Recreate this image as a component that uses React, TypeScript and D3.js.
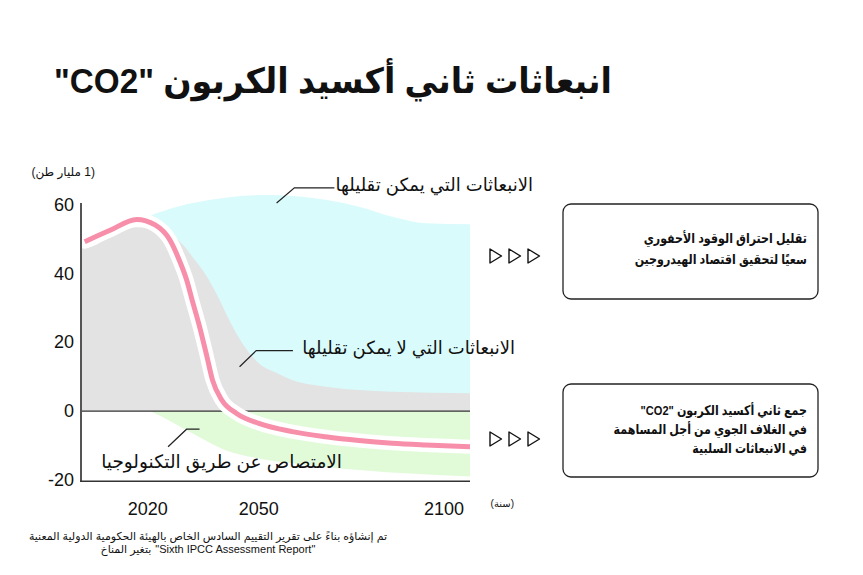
import { useEffect, useRef } from "react";
import * as d3 from "d3";

// net CO2 emissions (pink line), billion tonnes
const netYears = [2003, 2010, 2017, 2022, 2026, 2028.5, 2030.5, 2032, 2034, 2036, 2037.5, 2040, 2044, 2050, 2059, 2068, 2077, 2086, 2095, 2107];
const netValues = [49.3, 52.7, 55.8, 54.2, 49.8, 44, 38.2, 32.3, 24.6, 15.8, 9.0, 3.2, -0.7, -3.6, -6.0, -7.5, -8.6, -9.4, -9.9, -10.4];

// emissions that cannot be reduced (grey)
const hardYears = [2002, 2005, 2010, 2017, 2022, 2026, 2029.5, 2032, 2036, 2038.5, 2042, 2045, 2047.5, 2050, 2055, 2059, 2068, 2077, 2086, 2107];
const hardValues = [47.4, 47.9, 50.8, 53.5, 53.2, 51.8, 48.4, 45, 39.1, 34.3, 26.5, 20.7, 16.8, 13.9, 11.0, 9.0, 7.1, 6.1, 5.6, 5.2];

// emissions that can be reduced (cyan, top edge)
const reducibleYears = [2021, 2028, 2037, 2052, 2068, 2077, 2086, 2095, 2107];
const reducibleValues = [57.1, 59.5, 61.5, 62.9, 61.5, 59.5, 56.6, 54.7, 54.4];

// technological removal (green, lower edge)
const removalYears = [2020.5, 2023, 2032, 2041, 2050, 2059, 2077, 2107];
const removalValues = [0, -1.2, -6.5, -11.4, -13.8, -15.2, -17.2, -19.1];

const yTicks = [60, 40, 20, 0, -20];
const xTicks = [2020, 2050, 2100];

const title = 'انبعاثات ثاني أكسيد الكربون "CO2"';
const yUnit = "(1 مليار طن)";
const xUnit = "(سنة)";
const labelReducible = "الانبعاثات التي يمكن تقليلها";
const labelHard = "الانبعاثات التي لا يمكن تقليلها";
const labelRemoval = "الامتصاص عن طريق التكنولوجيا";
const box1Lines = ["تقليل احتراق الوقود الأحفوري", "سعيًا لتحقيق اقتصاد الهيدروجين"];
const box2Lines = ['جمع ثاني أكسيد الكربون "CO2"', "في الغلاف الجوي من أجل المساهمة", "في الانبعاثات السلبية"];
const sourceLine1 = "تم إنشاؤه بناءً على تقرير التقييم السادس الخاص بالهيئة الحكومية الدولية المعنية";
// second line is drawn in two pieces: Arabic on the left, English on the right
const sourceLine2Ar = "بتغير المناخ";
const sourceLine2En = '"Sixth IPCC Assessment Report"';

const FONT = "'Liberation Sans', Arial, 'DejaVu Sans', sans-serif";

export default function App() {
  const svgRef = useRef<SVGSVGElement>(null);

  useEffect(() => {
    if (!svgRef.current) return;
    const width = 863;
    const height = 575;

    d3.select(svgRef.current).selectAll("*").remove();
    const svg = d3
      .select(svgRef.current)
      .attr("width", width)
      .attr("height", height)
      .style("font-family", FONT);

    const x = d3.scaleLinear().domain([2002, 2107]).range([81, 470]);
    const y = d3.scaleLinear().domain([-20, 60]).range([479.7, 205]);

    const zip = (xs: number[], vs: number[]) => xs.map((d, i) => [d, vs[i]] as [number, number]);

    const areaFromZero = d3
      .area<[number, number]>()
      .x((d) => x(d[0]))
      .y0(y(0))
      .y1((d) => y(d[1]))
      .curve(d3.curveMonotoneX);

    // cyan: reducible emissions
    svg.append("path").attr("d", areaFromZero(zip(reducibleYears, reducibleValues))).attr("fill", "#d9fbfc");
    // grey: hard to reduce
    svg.append("path").attr("d", areaFromZero(zip(hardYears, hardValues))).attr("fill", "#e3e3e3");
    // green: removal
    svg.append("path").attr("d", areaFromZero(zip(removalYears, removalValues))).attr("fill", "#e1fbd9");

    // zero line
    svg
      .append("line")
      .attr("x1", x(2002))
      .attr("x2", x(2107))
      .attr("y1", y(0))
      .attr("y2", y(0))
      .attr("stroke", "#333")
      .attr("stroke-width", 1.2);

    const line = d3
      .line<[number, number]>()
      .x((d) => x(d[0]))
      .y((d) => y(d[1]))
      .curve(d3.curveMonotoneX);
    const net = zip(netYears, netValues);

    svg.append("path").attr("d", line(net)).attr("fill", "none").attr("stroke", "#fff").attr("stroke-width", 14).attr("stroke-linecap", "round");
    svg.append("path").attr("d", line(net)).attr("fill", "none").attr("stroke", "#f78fab").attr("stroke-width", 5);

    // axes
    svg
      .append("line")
      .attr("x1", x(2002))
      .attr("x2", x(2002))
      .attr("y1", y(60) - 2)
      .attr("y2", y(-20) + 1.5)
      .attr("stroke", "#555")
      .attr("stroke-width", 2);
    svg
      .append("line")
      .attr("x1", x(2002) - 1)
      .attr("x2", x(2107))
      .attr("y1", y(-20) + 1.5)
      .attr("y2", y(-20) + 1.5)
      .attr("stroke", "#333")
      .attr("stroke-width", 1.5);

    svg
      .selectAll(".ytick")
      .data(yTicks)
      .enter()
      .append("text")
      .attr("x", x(2002) - 7)
      .attr("y", (d) => y(d) + 6)
      .attr("text-anchor", "end")
      .attr("font-size", 18)
      .attr("fill", "#111")
      .text((d) => d);

    svg
      .selectAll(".xtick")
      .data(xTicks)
      .enter()
      .append("text")
      .attr("x", (d) => x(d))
      .attr("y", 515)
      .attr("text-anchor", "middle")
      .attr("font-size", 18)
      .attr("fill", "#111")
      .text((d) => d);

    // squeeze = horizontal factor, to get closer to the narrower Arabic face of the original
    const rtlText = (tx: number, ty: number, s: string, size: number, weight = "normal", anchor = "start", squeeze = 1) => {
      const t = svg
        .append("text")
        .attr("x", tx)
        .attr("y", ty)
        .attr("direction", "rtl")
        .attr("text-anchor", anchor)
        .attr("font-size", size)
        .attr("font-weight", weight)
        .attr("fill", "#111")
        .text(s);
      if (squeeze !== 1) {
        const w = (t.node() as SVGTextElement).getComputedTextLength();
        t.attr("textLength", w * squeeze).attr("lengthAdjust", "spacingAndGlyphs");
      }
      return t;
    };

    rtlText(612, 93, title, 35, "bold", "start", 0.95);
    rtlText(95, 176, yUnit, 12);
    rtlText(514, 507, xUnit, 10);

    // leaders + area labels
    const leader = (pts: [number, number][]) =>
      svg
        .append("path")
        .attr("d", d3.line()(pts.map((p) => [x(p[0]), y(p[1])] as [number, number])))
        .attr("fill", "none")
        .attr("stroke", "#222")
        .attr("stroke-width", 1.2);

    leader([[2054.8, 60.6], [2059.6, 65], [2070.4, 65]]);
    rtlText(533, y(65.8) + 6, labelReducible, 18);
    leader([[2044.8, 12.9], [2049.3, 17.6], [2059.2, 17.6]]);
    rtlText(515, y(18.4) + 6, labelHard, 18);
    leader([[2025.5, -10.4], [2030.5, -5.3], [2034, -5.3]]);
    rtlText(342, y(-14.8) + 6, labelRemoval, 18.5);

    // right-hand boxes
    const box = (bx: number, by: number, bw: number, bh: number, lines: string[], firstBase: number, step: number) => {
      svg
        .append("rect")
        .attr("x", bx)
        .attr("y", by)
        .attr("width", bw)
        .attr("height", bh)
        .attr("rx", 8)
        .attr("fill", "#fff")
        .attr("stroke", "#222")
        .attr("stroke-width", 1.3);
      lines.forEach((s, i) => rtlText(807, firstBase + i * step, s, 13.5, "bold", "start", 0.82));
    };
    box(563, 204, 255, 95, box1Lines, 243, 21);
    box(563, 384, 255, 93, box2Lines, 415, 19);

    // arrow heads
    const arrows = (cy: number) => {
      [490, 509, 528].forEach((ax) => {
        svg
          .append("path")
          .attr("d", `M${ax},${cy - 7}L${ax + 11.5},${cy}L${ax},${cy + 7}Z`)
          .attr("fill", "#fff")
          .attr("stroke", "#111")
          .attr("stroke-width", 1.4)
          .attr("stroke-linejoin", "round");
      });
    };
    arrows(256);
    arrows(439);

    // source
    rtlText(208, 540, sourceLine1, 11, "normal", "middle");
    const ar = svg.append("text").attr("x", 0).attr("y", 553).attr("font-size", 11).attr("fill", "#111").text(sourceLine2Ar);
    const en = svg.append("text").attr("x", 0).attr("y", 553).attr("font-size", 11).attr("fill", "#111").text(sourceLine2En);
    const arBox = (ar.node() as SVGTextElement).getBBox();
    const enBox = (en.node() as SVGTextElement).getBBox();
    const gap = 4;
    const left = 208 - (arBox.width + gap + enBox.width) / 2;
    ar.attr("x", left - arBox.x);
    en.attr("x", left + arBox.width + gap - enBox.x);
  }, []);

  return (
    <svg
      ref={svgRef}
      style={{ position: "absolute", left: 0, top: 0, background: "#fff" }}
    ></svg>
  );
}
